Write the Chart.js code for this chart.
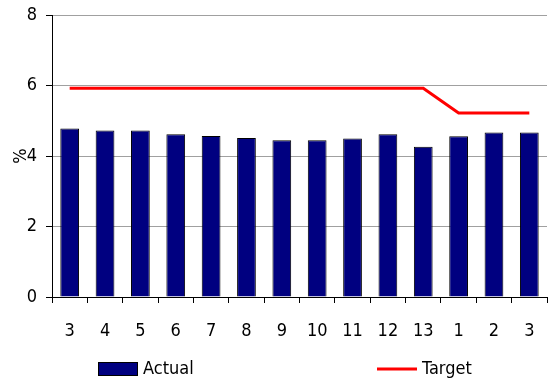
<!DOCTYPE html>
<html>
<head>
<meta charset="utf-8">
<script src="https://cdn.jsdelivr.net/npm/chart.js@4/dist/chart.umd.min.js"></script>
<style>
  html, body { margin: 0; padding: 0; background: #fff; }
  #wrap { width: 550px; height: 381px; }
</style>
</head>
<body>
<div id="wrap"><canvas id="c" width="550" height="381"></canvas></div>
<script>
// Monthly periods (13 four-week periods, then the new year)
const periods = ['3', '4', '5', '6', '7', '8', '9', '10', '11', '12', '13', '1', '2', '3'];
// Actual rate, %
const actual = [4.78, 4.72, 4.72, 4.62, 4.57, 4.51, 4.45, 4.45, 4.50, 4.62, 4.26, 4.56, 4.67, 4.67];
// Target rate, %
const target = [5.92, 5.92, 5.92, 5.92, 5.92, 5.92, 5.92, 5.92, 5.92, 5.92, 5.92, 5.22, 5.22, 5.22];
const yTicks = [0, 2, 4, 6, 8];

const FAMILY = "'DejaVu Sans', sans-serif";
// narrow face: the weight slot of the canvas font shorthand also accepts a stretch keyword
const STRETCH = 'condensed';
const FONT_CSS = STRETCH + " 18px " + FAMILY;

// Legend drawn below the axis: filled box for bars, short stroke for the line
const bottomLegend = {
  id: 'bottomLegend',
  afterDraw(chart) {
    const ctx = chart.ctx;
    const ds = chart.data.datasets;
    ctx.save();
    ctx.font = FONT_CSS;
    ctx.textBaseline = 'middle';
    const y = 369;
    // bar series
    ctx.fillStyle = ds[0].backgroundColor;
    ctx.fillRect(98, 362, 39, 13);
    ctx.strokeStyle = '#000';
    ctx.lineWidth = 1;
    ctx.strokeRect(98.5, 362.5, 39, 13);
    ctx.fillStyle = '#000';
    ctx.fillText(ds[0].label, 143, y);
    // line series
    ctx.strokeStyle = ds[1].borderColor;
    ctx.lineWidth = 3;
    ctx.beginPath();
    ctx.moveTo(377, y);
    ctx.lineTo(417, y);
    ctx.stroke();
    ctx.fillText(ds[1].label, 422, y);
    ctx.restore();
  }
};

const tickFont = { family: FAMILY, size: 18, weight: STRETCH };
// tight line height keeps the top label from pushing the plot area down
const yTickFont = { family: FAMILY, size: 18, weight: STRETCH, lineHeight: 0.6 };

new Chart(document.getElementById('c'), {
  data: {
    labels: periods,
    datasets: [
      {
        type: 'bar',
        label: 'Actual',
        data: actual,
        backgroundColor: '#000080',
        borderColor: '#000000',
        borderWidth: 1,
        barPercentage: 0.53,
        categoryPercentage: 1,
        order: 1
      },
      {
        type: 'line',
        label: 'Target',
        data: target,
        borderColor: '#ff0000',
        borderWidth: 3,
        pointRadius: 0,
        tension: 0,
        fill: false,
        order: 0
      }
    ]
  },
  options: {
    responsive: false,
    animation: false,
    layout: { padding: { top: 15, right: 3, left: 0, bottom: 0 } },
    plugins: {
      legend: { display: false },
      tooltip: { enabled: false }
    },
    scales: {
      x: {
        offset: true,
        grid: {
          offset: true,
          drawOnChartArea: true,
          color: (c) => (c.index === periods.length ? '#a0a0a0' : 'rgba(0,0,0,0)'),
          tickColor: '#000',
          tickLength: 6,
          lineWidth: 1
        },
        border: { color: '#000', width: 1 },
        ticks: {
          color: '#000',
          font: tickFont,
          padding: 18,
          maxRotation: 0,
          autoSkip: false
        },
        afterFit: (s) => { s.height = 84; s.paddingLeft = 0; s.paddingRight = 0; }
      },
      y: {
        min: 0,
        max: 8,
        afterBuildTicks: (s) => { s.ticks = yTicks.map(v => ({ value: v })); },
        grid: {
          color: '#a0a0a0',
          tickColor: '#000',
          tickLength: 6,
          lineWidth: 1
        },
        border: { color: '#000', width: 1 },
        ticks: {
          color: '#000',
          font: yTickFont,
          padding: 9
        },
        title: {
          display: true,
          text: '%',
          color: '#000',
          font: tickFont,
          padding: { top: 11, bottom: 0 }
        },
        afterFit: (s) => { s.width = 52; }
      }
    }
  },
  plugins: [bottomLegend]
});
</script>
</body>
</html>
